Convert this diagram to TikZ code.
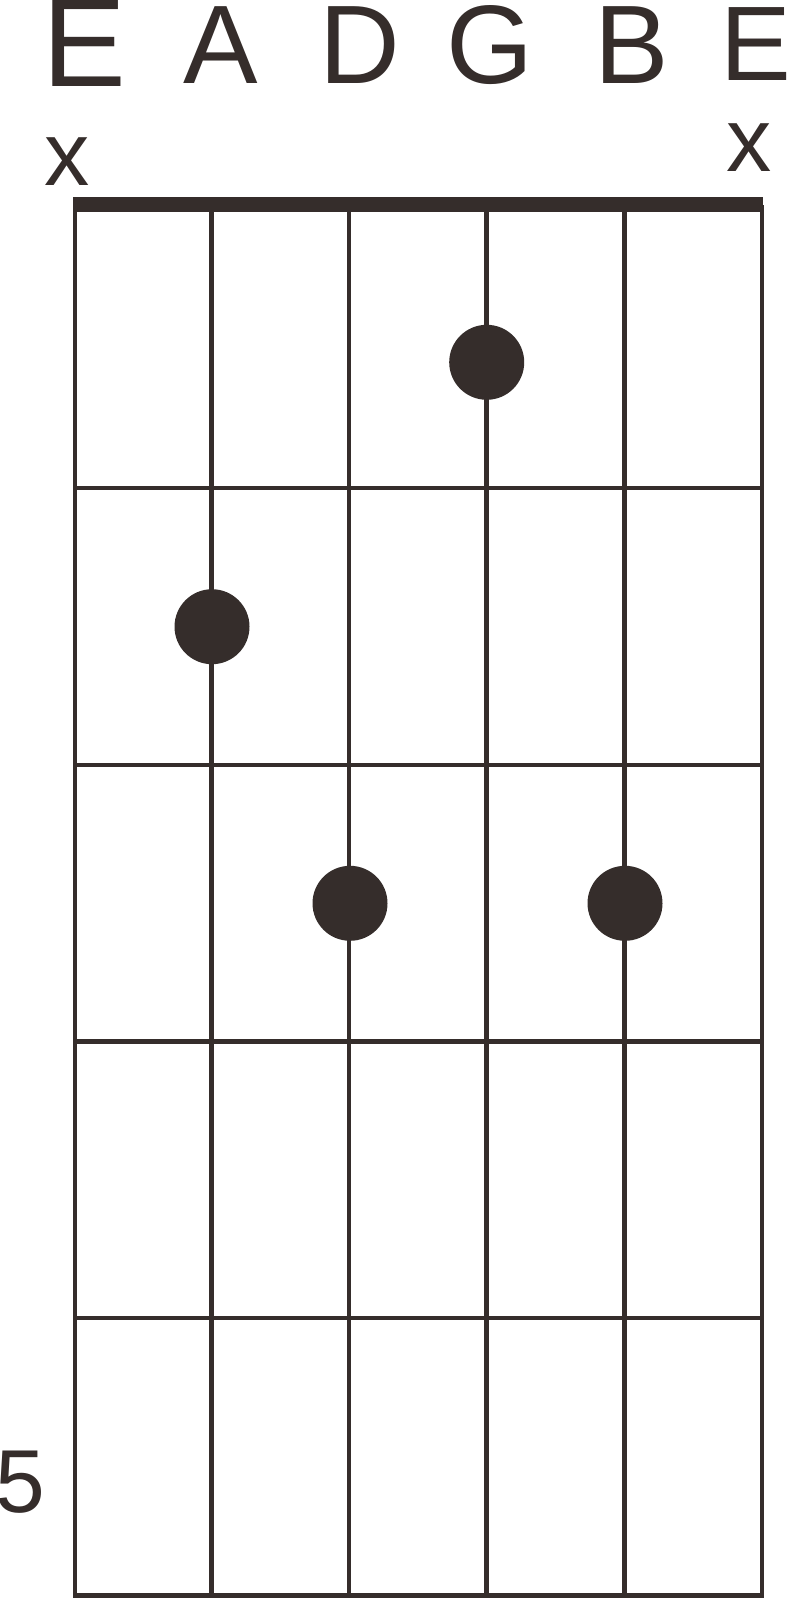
\documentclass[tikz,border=0pt]{standalone}
\usepackage{fontspec}
\setmainfont{Liberation Sans}
\definecolor{ink}{RGB}{53,45,43}
\begin{document}
\begin{tikzpicture}[x=1pt,y=-1pt,
  lbl/.style={inner sep=0pt,outer sep=0pt,text=ink,anchor=base},
  gridline/.style={draw=ink,line width=4.5pt},
  dot/.style={circle,fill=ink,inner sep=0pt,minimum size=75pt}]
\useasboundingbox (0,0) rectangle (787,1600);
% string names
\node[lbl,anchor=base west,font=\fontsize{125.7}{130}\selectfont] (s1) at (42.8,87) {E};
\node[lbl,font=\fontsize{111.7}{120}\selectfont] (s2) at (221,83.3) {A};
\node[lbl,font=\fontsize{111.7}{120}\selectfont] (s3) at (359.4,83.3) {D};
\node[lbl,font=\fontsize{111.7}{120}\selectfont] (s4) at (490,83.3) {G};
\node[lbl,font=\fontsize{111.7}{120}\selectfont] (s5) at (632,83.3) {B};
\node[lbl,anchor=base west,font=\fontsize{106}{110}\selectfont] (s6) at (720.6,80.7) {E};
% muted strings
\node[lbl,font=\fontsize{90.5}{95}\selectfont] (m1) at (67,185) {x};
\node[lbl,font=\fontsize{90.5}{95}\selectfont] (m6) at (749.5,171) {x};
% fret number
\node[lbl,font=\fontsize{89.4}{95}\selectfont] (fn) at (20.8,1512) {5};
% nut
\fill[ink] (73,197) rectangle (763,212);
% strings
\foreach \x in {75,211.5,349,486.7,624.5,762}
  \draw[gridline] (\x,205) -- (\x,1598);
% frets
\foreach \y in {488,765,1041.7,1318,1595.7}
  \draw[gridline] (73,\y) -- (764,\y);
% finger dots
\node[dot] (d4) at (486.7,362.3) {};
\node[dot] (d2) at (212,626.7) {};
\node[dot] (d3) at (350,903.3) {};
\node[dot] (d5) at (625,903.3) {};
\end{tikzpicture}
\end{document}
